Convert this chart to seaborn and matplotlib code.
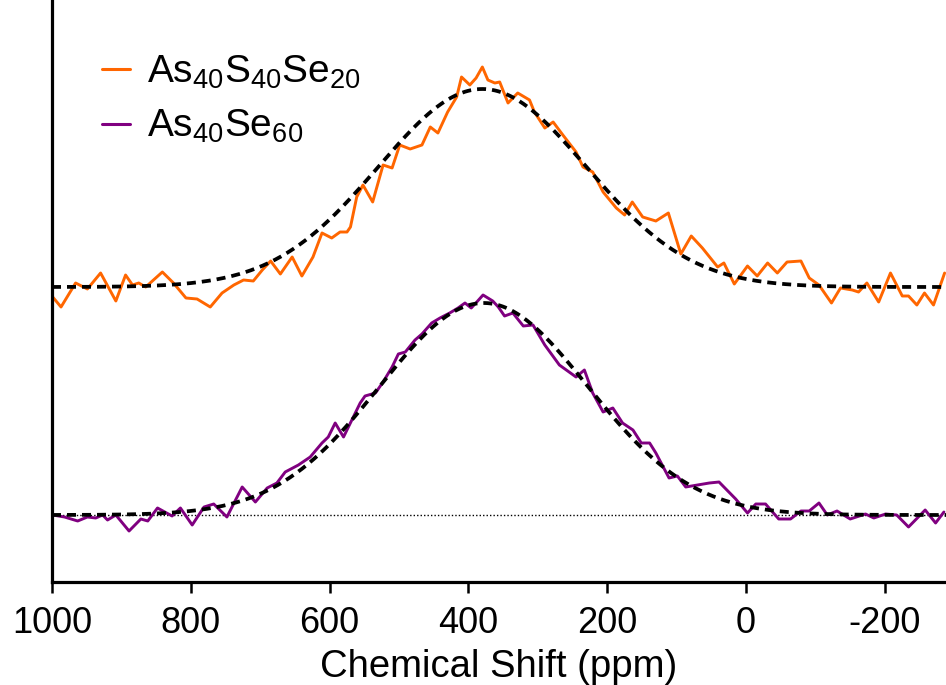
import numpy as np
import pandas as pd
import matplotlib
matplotlib.use("Agg")
import matplotlib.pyplot as plt
import seaborn as sns

# chemical shift (ppm) and intensity (arb. units)
ppm_s = [999, 987, 966, 949, 930, 908, 894, 884, 875, 865, 841, 825, 807, 791, 772,
         755, 738, 724, 710, 697, 685, 671, 654, 640, 624, 611, 597, 585, 575, 570,
         561, 552, 538, 523, 510, 499, 484, 467, 455, 444, 430, 417, 410, 398, 389,
         380, 372, 362, 355, 343, 329, 312, 305, 290, 278, 264, 245, 235, 221, 206,
         187, 175, 164, 149, 130, 112, 94, 79, 63, 41, 32, 17, -2, -16, -31,
         -45, -59, -79, -91, -105, -123, -136, -153, -162, -174, -191, -208, -225, -234, -246,
         -257, -270, -286]
int_s = [283, 273, 297, 291, 307, 279, 305, 295, 297, 293, 308, 297, 282, 281, 273,
         287, 295, 300, 299, 310, 319, 306, 323, 304, 323, 347, 342, 348, 348, 353,
         383, 395, 378, 415, 412, 435, 431, 435, 453, 447, 468, 483, 503, 495, 502,
         513, 500, 497, 498, 477, 487, 480, 468, 452, 458, 445, 428, 413, 408, 388,
         372, 365, 378, 363, 359, 367, 326, 344, 332, 313, 317, 296, 314, 304, 317,
         307, 318, 319, 302, 295, 277, 292, 290, 288, 297, 278, 307, 284, 284, 275,
         287, 275, 307]

ppm_se = [999, 982, 963, 949, 937, 927, 920, 908, 889, 872, 862, 848, 827, 815, 798,
          781, 767, 748, 726, 707, 690, 676, 664, 645, 628, 611, 602, 592, 580, 568,
          556, 549, 534, 523, 510, 501, 491, 477, 467, 453, 441, 427, 415, 405, 396,
          388, 379, 365, 357, 348, 336, 321, 307, 290, 269, 245, 233, 221, 206, 192,
          178, 163, 151, 139, 130, 111, 99, 87, 70, 53, 39, 15, -2, -14, -28,
          -47, -64, -79, -91, -105, -117, -131, -150, -172, -184, -201, -217, -234, -258, -273,
          -285]
int_se = [65, 63, 59, 63, 62, 65, 60, 65, 49, 61, 59, 72, 64, 72, 55,
          73, 76, 63, 93, 78, 92, 97, 108, 115, 123, 137, 143, 157, 143, 160,
          177, 184, 187, 198, 213, 226, 228, 240, 246, 257, 262, 267, 272, 277, 272,
          278, 285, 279, 273, 264, 267, 254, 255, 235, 215, 203, 210, 187, 168, 172,
          157, 150, 137, 137, 127, 102, 104, 93, 95, 97, 98, 81, 67, 76, 76,
          61, 61, 69, 69, 77, 65, 69, 61, 66, 62, 66, 65, 53, 70, 57,
          68]

# gaussian fit parameters: (centre ppm, sigma ppm, amplitude, baseline)
fit_s = (380, 150, 198, 293)
fit_se = (378, 150, 212, 65)

labels = [r"$\mathrm{As_{40}S_{40}Se_{20}}$", r"$\mathrm{As_{40}Se_{60}}$"]
colors = ["#FF6600", "#800080"]

sns.set_theme(style="white", rc={"text.color": "black", "axes.labelcolor": "black",
                                 "xtick.color": "black", "axes.edgecolor": "black"})
plt.rcParams["font.family"] = ["Liberation Sans", "DejaVu Sans"]
plt.rcParams["mathtext.fontset"] = "custom"
plt.rcParams["mathtext.rm"] = "Liberation Sans"
plt.rcParams["mathtext.it"] = "Liberation Sans:italic"
plt.rcParams["axes.unicode_minus"] = False
plt.rcParams["lines.solid_joinstyle"] = "round"

df = pd.concat([
    pd.DataFrame({"ppm": ppm_s, "I": int_s, "sample": labels[0]}),
    pd.DataFrame({"ppm": ppm_se, "I": int_se, "sample": labels[1]}),
])

fig = plt.figure(figsize=(9.46, 6.85), dpi=100)
ax = fig.add_axes([52 / 946, 1 - 582 / 685, 1 - 52 / 946, 582 / 685])

sns.lineplot(data=df, x="ppm", y="I", hue="sample", palette=colors,
             estimator=None, linewidth=2.1, ax=ax)

xf = np.linspace(1000, -300, 600)
for c, s, a, b in (fit_s, fit_se):
    ax.plot(xf, b + a * np.exp(-(xf - c) ** 2 / (2 * s ** 2)), color="black",
            linestyle=(0, (2.4, 1.6)), linewidth=2.7, zorder=3)

ax.axhline(fit_se[3], color="black", linestyle=(0, (1, 1.5)), linewidth=1.0, zorder=1)

ax.set_xlim(1000, -288)
ax.set_ylim(-2, 580)
ax.set_xticks([1000, 800, 600, 400, 200, 0, -200])
ax.set_yticks([])
ax.set_xlabel("Chemical Shift (ppm)", fontsize=27.5, labelpad=6)
ax.set_ylabel("")
ax.tick_params(axis="x", labelsize=26, length=8, width=1.8, direction="out",
               bottom=True, pad=9)
for side in ["top", "right"]:
    ax.spines[side].set_visible(False)
for side in ["left", "bottom"]:
    ax.spines[side].set_linewidth(2.3)

leg = ax.legend(loc="upper left", bbox_to_anchor=(0.039, 0.935), frameon=False,
                fontsize=28, handlelength=0.72, handletextpad=0.42,
                labelspacing=0.45, borderaxespad=0)
for h in leg.get_lines():
    h.set_linewidth(2.2)

fig.savefig("out.png", dpi=100)
